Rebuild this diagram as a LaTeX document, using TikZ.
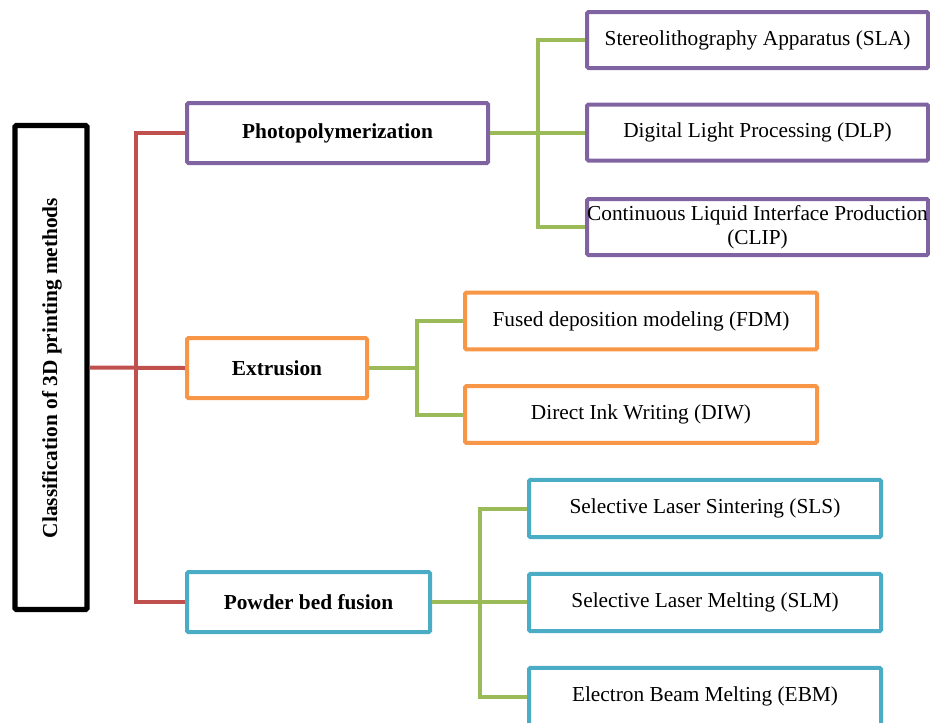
\documentclass[tikz,border=0pt]{standalone}
\usepackage{fontspec}
\setmainfont{Liberation Serif}
\definecolor{cpurple}{HTML}{8064A2}
\definecolor{corange}{HTML}{F79646}
\definecolor{cblue}{HTML}{4BACC6}
\definecolor{cgreen}{HTML}{9BBB59}
\definecolor{cred}{HTML}{C0504D}
\begin{document}
\begin{tikzpicture}[x=0.75pt,y=-0.75pt,
  box/.style={draw, line width=3pt, rounded corners=1pt, fill=white, align=center, inner sep=0pt, font=\fontsize{16}{18}\selectfont},
  midbox/.style={box, font=\fontsize{16}{18}\bfseries},
  leafp/.style={box, draw=cpurple, minimum width=255.75pt, minimum height=42pt},
  leafo/.style={box, draw=corange, minimum width=264pt, minimum height=42.5pt},
  leafb/.style={box, draw=cblue, minimum width=264pt, minimum height=43pt},
  redline/.style={draw=cred, line width=3pt},
  grnline/.style={draw=cgreen, line width=3pt}]
\useasboundingbox (0,0) rectangle (930,722);
% main
\node[box, draw=black, line width=4pt, minimum width=54pt, minimum height=363pt] (main) at (51,367.5) {};
\node[rotate=90, font=\fontsize{16}{18}\bfseries\selectfont] (maintxt) at (52,368) {Classification of 3D printing methods};
% middle
\node[midbox, draw=cpurple, minimum width=225.75pt, minimum height=45pt] (photo) at (337.5,133) {Photopolymerization};
\node[midbox, draw=corange, minimum width=135pt, minimum height=45pt] (ext) at (277,368) {Extrusion};
\node[midbox, draw=cblue, minimum width=182.25pt, minimum height=45pt] (pbf) at (308.5,602) {Powder bed fusion};
% leaves
\node[leafp] (sla) at (757.5,40) {Stereolithography Apparatus (SLA)};
\node[leafp] (dlp) at (757.5,132.5) {Digital Light Processing (DLP)};
\node[leafp] (clip) at (757.5,227) {Continuous Liquid Interface Production\\(CLIP)};
\node[leafo] (fdm) at (641,321) {Fused deposition modeling (FDM)};
\node[leafo] (diw) at (641,414.5) {Direct Ink Writing (DIW)};
\node[leafb] (sls) at (705,508.5) {Selective Laser Sintering (SLS)};
\node[leafb] (slm) at (705,602.5) {Selective Laser Melting (SLM)};
\node[leafb] (ebm) at (705,696.5) {Electron Beam Melting (EBM)};
% coordinates
\coordinate (rt) at (136,368);
\coordinate (g1) at (538,133);
\coordinate (g2) at (417,368);
\coordinate (g3) at (480,602);
% connectors
\draw[redline] (photo.west) -| (rt) |- (pbf.west);
\draw[redline] (main.east) -- (ext.west);
\draw[grnline] (sla.west) -| (g1) |- (clip.west);
\draw[grnline] (photo.east) -- (g1) -- (g1 -| dlp.west);
\draw[grnline] (fdm.west) -| (g2) |- (diw.west);
\draw[grnline] (ext.east) -- (g2);
\draw[grnline] (sls.west) -| (g3) |- (ebm.west);
\draw[grnline] (pbf.east) -- (g3) -- (g3 -| slm.west);
\end{tikzpicture}
\end{document}
